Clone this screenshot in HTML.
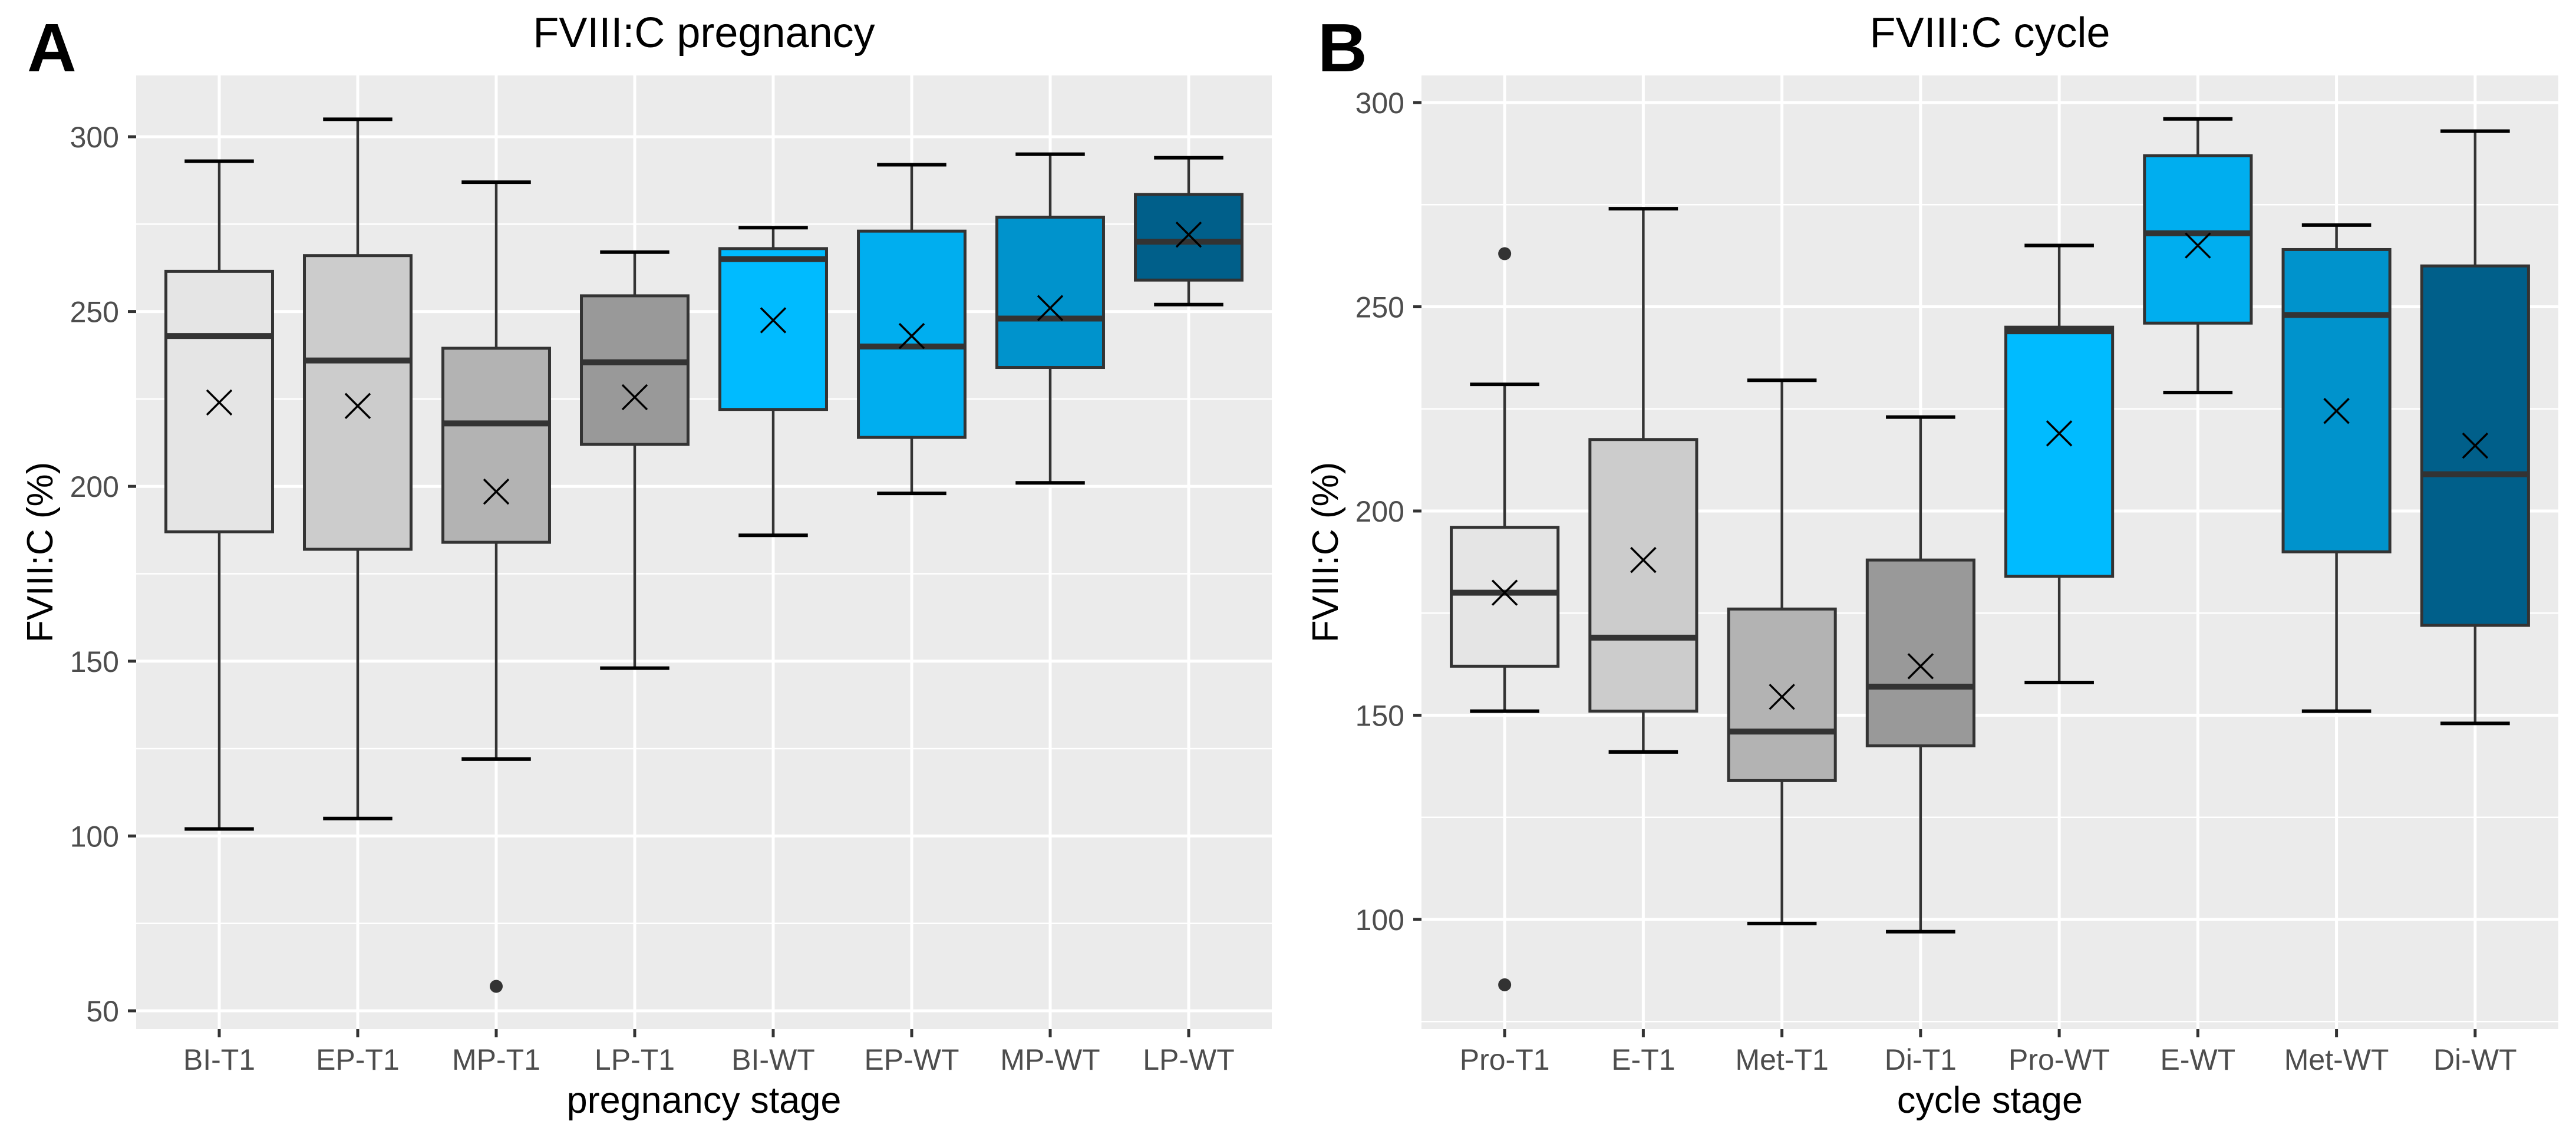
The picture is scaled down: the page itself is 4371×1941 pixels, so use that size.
<!DOCTYPE html>
<html><head><meta charset="utf-8"><style>
html,body{margin:0;padding:0;background:#fff}
svg{display:block}
text{font-family:"Liberation Sans",Arial,sans-serif}
</style></head><body>
<svg id="fig" xmlns="http://www.w3.org/2000/svg" width="4371" height="1941" viewBox="0 0 4371 1941">
<rect width="4371" height="1941" fill="#fff"/>
</svg>
<script>
// Panel A data
const catsA = ["BI-T1","EP-T1","MP-T1","LP-T1","BI-WT","EP-WT","MP-WT","LP-WT"];
const lowA  = [102,105,122,148,186,198,201,252];
const q1A   = [187,182,184,212,222,214,234,259];
const medA  = [243,236,218,235.5,265,240,248,270];
const q3A   = [261.5,266,239.5,254.5,268,273,277,283.5];
const highA = [293,305,287,267,274,292,295,294];
const meanA = [224,223,198.5,225.5,247.5,243,251,272];
const outA  = [[],[],[57],[],[],[],[],[]];
const ticksA = [50,100,150,200,250,300];
const minorA = [75,125,175,225,275];
// Panel B data
const catsB = ["Pro-T1","E-T1","Met-T1","Di-T1","Pro-WT","E-WT","Met-WT","Di-WT"];
const lowB  = [151,141,99,97,158,229,151,148];
const q1B   = [162,151,134,142.5,184,246,190,172];
const medB  = [180,169,146,157,244,268,248,209];
const q3B   = [196,217.5,176,188,245,287,264,260];
const highB = [231,274,232,223,265,296,270,293];
const meanB = [180,188,154.5,162,219,265,224.5,216];
const outB  = [[263,84],[],[],[],[],[],[],[]];
const ticksB = [100,150,200,250,300];
const minorB = [75,125,175,225,275];
const fills = ["#e5e5e5","#cccccc","#b3b3b3","#999999","#00bbff","#00aeef","#0093cc","#005f8a"];

const NS="http://www.w3.org/2000/svg";
const svg=document.getElementById('fig');
function mk(tag,attrs,parent){const e=document.createElementNS(NS,tag);for(const k in attrs)e.setAttribute(k,attrs[k]);(parent||svg).appendChild(e);return e;}

function panel(cfg){
  const g=mk('g',{});
  
  
  const {L,R,T,B,v0,p0,v1,p1}=cfg;
  const y=v=>p0+(v-v0)*(p1-p0)/(v1-v0);
  const n=cfg.cats.length;
  const step=(R-L)/(n-1+1.2);
  const x=i=>L+step*0.6+i*step;
  const bg=mk('rect',{x:L,y:T,width:R-L,height:B-T,fill:'#ebebeb'},g);
  
  
  cfg.minor.forEach(v=>{const l=mk('line',{x1:L,x2:R,y1:y(v),y2:y(v),stroke:'#fff','stroke-width':2.5},g);
    
    });
  cfg.ticks.forEach(v=>{const l=mk('line',{x1:L,x2:R,y1:y(v),y2:y(v),stroke:'#fff','stroke-width':5},g);
    
    
    const t=mk('line',{x1:L-14,x2:L,y1:y(v),y2:y(v),stroke:'#333','stroke-width':5},g);
    
    
    const tx=mk('text',{x:L-29,y:y(v)+18,'font-size':50,fill:'#4d4d4d','text-anchor':'end'},g);
    tx.textContent=v;
    
    });
  cfg.cats.forEach((c,i)=>{const l=mk('line',{x1:x(i),x2:x(i),y1:T,y2:B,stroke:'#fff','stroke-width':5},g);
    
    
    const t=mk('line',{x1:x(i),x2:x(i),y1:B,y2:B+14,stroke:'#333','stroke-width':5},g);
    
    
    const tx=mk('text',{x:x(i),y:B+69,'font-size':50,fill:'#4d4d4d','text-anchor':'middle'},g);
    tx.textContent=c;
    
    });
  const bw=step*0.77, cw=step*0.5;
  cfg.cats.forEach((c,i)=>{
    const bx=mk('g',{},g);
    
    
    const xi=x(i);
    mk('line',{x1:xi,x2:xi,y1:y(cfg.high[i]),y2:y(cfg.q3[i]),stroke:'#333','stroke-width':4.5},bx);
    mk('line',{x1:xi,x2:xi,y1:y(cfg.q1[i]),y2:y(cfg.low[i]),stroke:'#333','stroke-width':4.5},bx);
    mk('line',{x1:xi-cw/2,x2:xi+cw/2,y1:y(cfg.high[i]),y2:y(cfg.high[i]),stroke:'#000','stroke-width':6},bx);
    mk('line',{x1:xi-cw/2,x2:xi+cw/2,y1:y(cfg.low[i]),y2:y(cfg.low[i]),stroke:'#000','stroke-width':6},bx);
    mk('rect',{x:xi-bw/2,y:y(cfg.q3[i]),width:bw,height:y(cfg.q1[i])-y(cfg.q3[i]),fill:fills[i],stroke:'#333','stroke-width':5},bx);
    mk('line',{x1:xi-bw/2,x2:xi+bw/2,y1:y(cfg.med[i]),y2:y(cfg.med[i]),stroke:'#333','stroke-width':10},bx);
    const my=y(cfg.mean[i]);
    mk('path',{d:`M${xi-21} ${my-21}L${xi+21} ${my+21}M${xi+21} ${my-21}L${xi-21} ${my+21}`,stroke:'#000','stroke-width':3.5,fill:'none'},bx);
    cfg.out[i].forEach(o=>{const d=mk('ellipse',{cx:xi,cy:y(o),rx:11,ry:11,fill:'#333'},bx);
      
      });
  });
  const tt=mk('text',{x:(L+R)/2,y:80,'font-size':72,fill:'#000','text-anchor':'middle'},g);
  tt.textContent=cfg.title;
  
  
  const xt=mk('text',{x:(L+R)/2,y:1888,'font-size':63,fill:'#000','text-anchor':'middle'},g);
  xt.textContent=cfg.xlab;
  
  
  const yt=mk('text',{x:0,y:0,'font-size':62,fill:'#000','text-anchor':'middle',transform:`translate(${cfg.ytx},${(T+B)/2}) rotate(-90)`},g);
  yt.textContent='FVIII:C (%)';
  
  
  const lt=mk('text',{x:cfg.letterX,y:121,'font-size':116,'font-weight':'bold',fill:'#000'},g);
  lt.textContent=cfg.letter;
  
  
}
panel({name:'panel-a-pregnancy',L:231,R:2158,T:128,B:1746,v0:300,p0:232,v1:50,p1:1715,
  cats:catsA,low:lowA,q1:q1A,med:medA,q3:q3A,high:highA,mean:meanA,out:outA,ticks:ticksA,minor:minorA,
  title:'FVIII:C pregnancy',xlab:'pregnancy stage',ytx:89,letter:'A',letterX:46});
panel({name:'panel-b-cycle',L:2412,R:4341,T:128,B:1746,v0:300,p0:174,v1:100,p1:1560,
  cats:catsB,low:lowB,q1:q1B,med:medB,q3:q3B,high:highB,mean:meanB,out:outB,ticks:ticksB,minor:minorB,
  title:'FVIII:C cycle',xlab:'cycle stage',ytx:2270,letter:'B',letterX:2236});
</script>
</body></html>
